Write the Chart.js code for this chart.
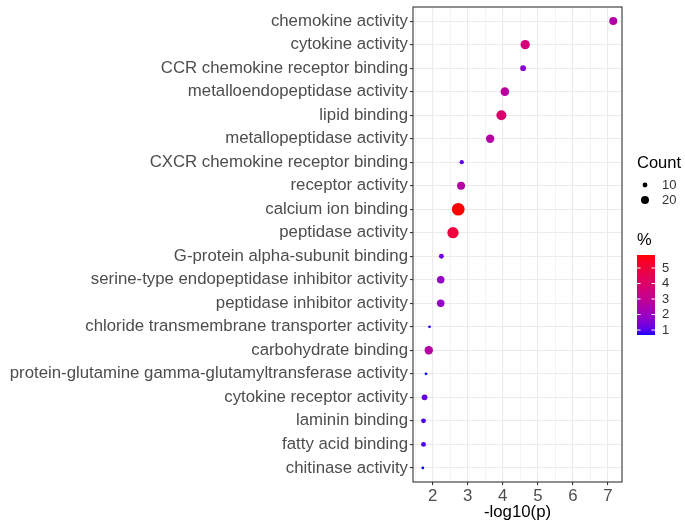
<!DOCTYPE html>
<html lang="en">
<head>
<meta charset="UTF-8">
<title>GO enrichment dot plot</title>
<script src="https://cdn.jsdelivr.net/npm/chart.js@4.4.1/dist/chart.umd.min.js"></script>
<style>
    html, body { margin: 0; padding: 0; background: #fff; }
    #wrap { width: 685px; height: 525px; position: relative; }
</style>
</head>
<body>
<div id="wrap"><canvas id="dotChart"></canvas></div>
<script>
// GO terms, top to bottom
const terms = [
    'chemokine activity',
    'cytokine activity',
    'CCR chemokine receptor binding',
    'metalloendopeptidase activity',
    'lipid binding',
    'metallopeptidase activity',
    'CXCR chemokine receptor binding',
    'receptor activity',
    'calcium ion binding',
    'peptidase activity',
    'G-protein alpha-subunit binding',
    'serine-type endopeptidase inhibitor activity',
    'peptidase inhibitor activity',
    'chloride transmembrane transporter activity',
    'carbohydrate binding',
    'protein-glutamine gamma-glutamyltransferase activity',
    'cytokine receptor activity',
    'laminin binding',
    'fatty acid binding',
    'chitinase activity'
];
const logP = [7.15, 4.64, 4.58, 4.06, 3.96, 3.64, 2.83, 2.81, 2.73, 2.58,
              2.25, 2.23, 2.23, 1.91, 1.89, 1.81, 1.77, 1.74, 1.74, 1.72];
const counts = [20, 27, 12, 23, 31, 22, 9, 20, 52, 40,
                10, 18, 18, 8, 22, 8, 12, 10, 10, 8];
const percents = [2.5, 3.6, 1.7, 2.7, 3.9, 2.6, 1.1, 2.6, 5.84, 4.9,
                  1.3, 1.9, 1.9, 0.8, 2.6, 0.7, 1.2, 1.0, 1.0, 0.68];

const xTicks = [1.5, 2, 2.5, 3, 3.5, 4, 4.5, 5, 5.5, 6, 6.5, 7];
const countBreaks = [10, 20];
const pctBreaks = [1, 2, 3, 4, 5];

const FONT = '"Liberation Sans", Arial, sans-serif';

// size scale (area), like ggplot scale_size
const cMin = Math.min(...counts), cMax = Math.max(...counts);
function radiusFor(c) {
    return (2.8 + 9.9 * Math.sqrt((c - cMin) / (cMax - cMin))) / 2;
}

// colour scale blue -> red, interpolated in Lab
const pMin = Math.min(...percents), pMax = Math.max(...percents);
function toLab(rgb) {
    const lin = rgb.map(v => { v /= 255; return v <= 0.04045 ? v / 12.92 : Math.pow((v + 0.055) / 1.055, 2.4); });
    const X = (0.4124 * lin[0] + 0.3576 * lin[1] + 0.1805 * lin[2]) / 0.95047;
    const Y = 0.2126 * lin[0] + 0.7152 * lin[1] + 0.0722 * lin[2];
    const Z = (0.0193 * lin[0] + 0.1192 * lin[1] + 0.9505 * lin[2]) / 1.08883;
    const f = t => t > 0.008856 ? Math.cbrt(t) : 7.787 * t + 16 / 116;
    return [116 * f(Y) - 16, 500 * (f(X) - f(Y)), 200 * (f(Y) - f(Z))];
}
function fromLab(lab) {
    const fy = (lab[0] + 16) / 116, fx = fy + lab[1] / 500, fz = fy - lab[2] / 200;
    const finv = t => t > 0.206893 ? t * t * t : (t - 16 / 116) / 7.787;
    const X = finv(fx) * 0.95047, Y = finv(fy), Z = finv(fz) * 1.08883;
    const lin = [
        3.2406 * X - 1.5372 * Y - 0.4986 * Z,
        -0.9689 * X + 1.8758 * Y + 0.0415 * Z,
        0.0557 * X - 0.2040 * Y + 1.0570 * Z
    ];
    return lin.map(v => {
        v = v <= 0.0031308 ? 12.92 * v : 1.055 * Math.pow(v, 1 / 2.4) - 0.055;
        return Math.round(Math.min(1, Math.max(0, v)) * 255);
    });
}
const labLow = toLab([0, 0, 255]);
const labHigh = toLab([255, 0, 0]);
function colorFor(p) {
    const t = Math.min(1, Math.max(0, (p - pMin) / (pMax - pMin)));
    const lab = labLow.map((v, i) => v + (labHigh[i] - v) * t);
    const rgb = fromLab(lab);
    return `rgb(${rgb[0]},${rgb[1]},${rgb[2]})`;
}

const points = logP.map((v, i) => ({ x: v, y: i }));

// panel border + legends
const extrasPlugin = {
    id: 'extras',
    afterDraw(chart) {
        const ctx = chart.ctx;
        const a = chart.chartArea;
        ctx.save();
        ctx.strokeStyle = '#333333';
        ctx.lineWidth = 1.1;
        ctx.strokeRect(a.left, a.top, a.right - a.left, a.bottom - a.top);

        // Count legend
        ctx.fillStyle = '#000';
        ctx.font = '16.5px ' + FONT;
        ctx.textBaseline = 'middle';
        ctx.textAlign = 'left';
        ctx.fillText('Count', 637, 163);
        ctx.font = '13px ' + FONT;
        countBreaks.forEach((c, i) => {
            const y = 185 + i * 15;
            ctx.beginPath();
            ctx.arc(645, y, radiusFor(c), 0, Math.PI * 2);
            ctx.fillStyle = '#000';
            ctx.fill();
            ctx.fillStyle = '#333';
            ctx.fillText(String(c), 662, y);
        });

        // % colourbar
        ctx.fillStyle = '#000';
        ctx.font = '16.5px ' + FONT;
        ctx.fillText('%', 637, 240);
        const bx = 637, bw = 18, top = 255, bot = 335;
        for (let y = top; y < bot; y++) {
            const p = pMax - (y - top + 0.5) / (bot - top) * (pMax - pMin);
            ctx.fillStyle = colorFor(p);
            ctx.fillRect(bx, y, bw, 1);
        }
        ctx.font = '13px ' + FONT;
        ctx.strokeStyle = '#fff';
        ctx.lineWidth = 1;
        pctBreaks.forEach(p => {
            const y = bot - (p - pMin) / (pMax - pMin) * (bot - top);
            ctx.beginPath();
            ctx.moveTo(bx, y); ctx.lineTo(bx + 3.6, y);
            ctx.moveTo(bx + bw - 3.6, y); ctx.lineTo(bx + bw, y);
            ctx.stroke();
            ctx.fillStyle = '#333';
            ctx.fillText(String(p), 662, y);
        });
        ctx.restore();
    }
};

const ctx = document.getElementById('dotChart').getContext('2d');
new Chart(ctx, {
    type: 'scatter',
    data: {
        datasets: [{
            data: points,
            pointRadius: c => radiusFor(counts[c.dataIndex]),
            pointHoverRadius: c => radiusFor(counts[c.dataIndex]),
            backgroundColor: c => colorFor(percents[c.dataIndex]),
            borderWidth: 0
        }]
    },
    options: {
        responsive: true,
        maintainAspectRatio: false,
        animation: false,
        events: [],
        layout: { padding: { left: 0, right: 63, top: 7, bottom: 0 } },
        plugins: {
            legend: { display: false },
            tooltip: { enabled: false }
        },
        scales: {
            x: {
                type: 'linear',
                min: 1.44,
                max: 7.4,
                afterBuildTicks: axis => { axis.ticks = xTicks.map(v => ({ value: v })); },
                afterFit: axis => { axis.height = 43; axis.paddingLeft = 0; axis.paddingRight = 0; },
                grid: {
                    color: '#ebebeb',
                    lineWidth: c => (c.tick && Number.isInteger(c.tick.value)) ? 1.1 : 0.6,
                    tickLength: 3,
                    tickColor: c => (c.tick && Number.isInteger(c.tick.value)) ? '#333333' : 'rgba(0,0,0,0)'
                },
                border: { display: false },
                ticks: {
                    autoSkip: false,
                    maxRotation: 0,
                    padding: 1,
                    color: '#4d4d4d',
                    font: { family: FONT, size: 16.8 },
                    callback: v => Number.isInteger(v) ? String(v) : ''
                },
                title: {
                    display: true,
                    text: '-log10(p)',
                    color: '#000',
                    font: { family: FONT, size: 16.8 },
                    padding: { top: 0, bottom: 3 }
                }
            },
            y: {
                type: 'linear',
                reverse: true,
                min: -0.6,
                max: terms.length - 0.4,
                afterBuildTicks: axis => { axis.ticks = terms.map((t, i) => ({ value: i })); },
                afterFit: axis => { axis.width = 413; axis.paddingTop = 0; axis.paddingBottom = 0; },
                grid: {
                    color: '#ebebeb',
                    lineWidth: 1.1,
                    tickLength: 3,
                    tickColor: '#333333'
                },
                border: { display: false },
                ticks: {
                    autoSkip: false,
                    padding: 2,
                    color: '#4d4d4d',
                    font: { family: FONT, size: 16.8 },
                    callback: v => terms[v]
                }
            }
        }
    },
    plugins: [extrasPlugin]
});
</script>
</body>
</html>
